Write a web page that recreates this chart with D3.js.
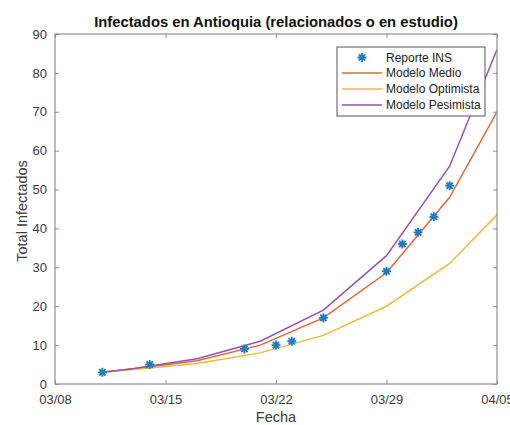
<!DOCTYPE html>
<html>
<head>
<meta charset="utf-8">
<script src="https://cdn.jsdelivr.net/npm/d3@7"></script>
<style>
  body { margin: 0; background: #fff; }
  svg { display: block; font-family: "Liberation Sans", Arial, sans-serif; }
</style>
</head>
<body>
<svg id="chart" width="510" height="425"></svg>
<script>
// ---- Data ----
const reportDates = ["2020-03-11","2020-03-14","2020-03-20","2020-03-22","2020-03-23","2020-03-25","2020-03-29","2020-03-30","2020-03-31","2020-04-01","2020-04-02"];
const reportValues = [3, 5, 9, 10, 11, 17, 29, 36, 39, 43, 51];

const modelDates = ["2020-03-11","2020-03-13","2020-03-17","2020-03-21","2020-03-25","2020-03-29","2020-04-02","2020-04-05"];
const medioValues =     [3, 3.9, 6.0, 10.0, 17.0, 28.6, 48.0, 70.0];
const optimistaValues = [3, 3.7, 5.3, 8.0, 12.5, 20.0, 31.0, 43.5];
const pesimistaValues = [3, 4.0, 6.5, 11.0, 19.0, 33.0, 56.0, 86.0];

const xTickDates = ["2020-03-08","2020-03-15","2020-03-22","2020-03-29","2020-04-05"];
const yTicks = [0,10,20,30,40,50,60,70,80,90];

const titleText = "Infectados en Antioquia (relacionados o en estudio)";
const xLabel = "Fecha";
const yLabel = "Total Infectados";
const legendLabels = ["Reporte INS","Modelo Medio","Modelo Optimista","Modelo Pesimista"];

// ---- Layout ----
(function () {
const parse = d3.timeParse("%Y-%m-%d");
const pL = 55, pR = 497, pT = 34, pB = 384;
const svg = d3.select("#chart");

const x = d3.scaleTime().domain([parse("2020-03-08"), parse("2020-04-05")]).range([pL, pR]);
const y = d3.scaleLinear().domain([0, 90]).range([pB, pT]);

const axisColor = "#8f8f8f";
const textColor = "#3a3a3a";
const colMedio = "#E0683A", colOpt = "#EFB93C", colPes = "#9552B2", colMark = "#1f7cc4";

svg.append("clipPath").attr("id","clip").append("rect")
  .attr("x", pL).attr("y", pT).attr("width", pR-pL).attr("height", pB-pT);

const line = d3.line().x(d => x(d[0])).y(d => y(d[1]));
function drawModel(vals, color) {
  const pts = modelDates.map((d,i) => [parse(d), vals[i]]);
  svg.append("path").attr("d", line(pts)).attr("fill","none")
    .attr("stroke", color).attr("stroke-width", 1.5).attr("clip-path","url(#clip)");
}
drawModel(medioValues, colMedio);
drawModel(optimistaValues, colOpt);
drawModel(pesimistaValues, colPes);

function star(g, cx, cy, r) {
  const d = `M${cx-r},${cy}L${cx+r},${cy}M${cx},${cy-r}L${cx},${cy+r}` +
    `M${cx-r*0.7},${cy-r*0.7}L${cx+r*0.7},${cy+r*0.7}M${cx-r*0.7},${cy+r*0.7}L${cx+r*0.7},${cy-r*0.7}`;
  g.append("path").attr("d", d).attr("stroke", colMark).attr("stroke-width", 1.9).attr("fill","none");
}
const mg = svg.append("g");
reportDates.forEach((d,i) => star(mg, x(parse(d)), y(reportValues[i]), 4.5));

const xAxis = d3.axisBottom(x).tickValues(xTickDates.map(parse)).tickFormat(d3.timeFormat("%m/%d")).tickSizeInner(-4).tickSizeOuter(0).tickPadding(11);
const yAxis = d3.axisLeft(y).tickValues(yTicks).tickSizeInner(-4).tickSizeOuter(0).tickPadding(8);
const gx = svg.append("g").attr("transform", `translate(0,${pB})`).call(xAxis);
const gy = svg.append("g").attr("transform", `translate(${pL},0)`).call(yAxis);
const gxt = svg.append("g").attr("transform", `translate(0,${pT})`).call(d3.axisTop(x).tickValues(xTickDates.map(parse)).tickSizeInner(-4).tickSizeOuter(0).tickFormat(""));
const gyr = svg.append("g").attr("transform", `translate(${pR},0)`).call(d3.axisRight(y).tickValues(yTicks).tickSizeInner(-4).tickSizeOuter(0).tickFormat(""));
[gx, gy, gxt, gyr].forEach(g => {
  g.select(".domain").remove();
  g.selectAll(".tick line").attr("stroke", axisColor);
  g.selectAll(".tick text").attr("fill", textColor).style("font-size","13px").style("font-family","Liberation Sans, Arial, sans-serif");
});
svg.append("rect").attr("x", pL).attr("y", pT).attr("width", pR-pL).attr("height", pB-pT)
  .attr("fill","none").attr("stroke", axisColor).attr("stroke-width", 1.2);

svg.append("text").attr("x", 276).attr("y", 27).attr("text-anchor","middle")
  .style("font-weight","bold").style("font-size","14.8px").attr("fill","#111").text(titleText);
svg.append("text").attr("x", 276).attr("y", 422).attr("text-anchor","middle")
  .style("font-size","14.5px").attr("fill", textColor).text(xLabel);
svg.append("text").attr("transform", `translate(27,211) rotate(-90)`).attr("text-anchor","middle")
  .style("font-size","14.5px").attr("fill", textColor).text(yLabel);

const lx = 337, ly = 47, lw = 148, lh = 69;
const lg = svg.append("g");
lg.append("rect").attr("x", lx).attr("y", ly).attr("width", lw).attr("height", lh)
  .attr("fill","#fff").attr("stroke","#555").attr("stroke-width", 1);
const rowY = [57.5, 73, 89, 105];
const legColors = [colMark, colMedio, colOpt, colPes];
legendLabels.forEach((lab, i) => {
  if (i === 0) {
    star(lg, lx + 25, rowY[i], 4.5);
  } else {
    lg.append("line").attr("x1", lx + 5).attr("x2", lx + 45).attr("y1", rowY[i]).attr("y2", rowY[i])
      .attr("stroke", legColors[i]).attr("stroke-width", 1.5);
  }
  lg.append("text").attr("x", lx + 49).attr("y", rowY[i]).attr("dy","0.35em")
    .style("font-size","12px").attr("fill","#222").text(lab);
});
})();
</script>
</body>
</html>
